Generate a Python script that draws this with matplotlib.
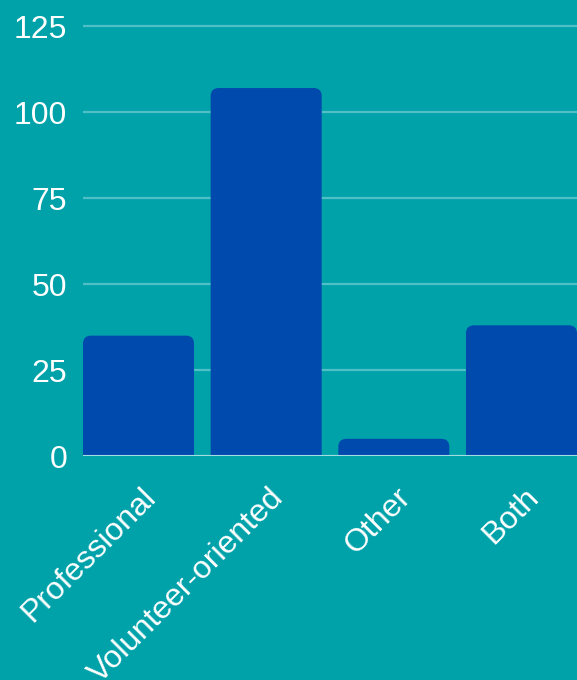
import matplotlib.pyplot as plt
from matplotlib.patches import FancyBboxPatch
from matplotlib.transforms import ScaledTranslation

plt.rcParams['font.family'] = ['Liberation Sans', 'DejaVu Sans']

categories = ['Professional', 'Volunteer-oriented', 'Other', 'Both']
counts = [35, 107, 5, 38]
yticks = [0, 25, 50, 75, 100, 125]

bg = '#00a2aa'
bar_color = '#004aad'

fig = plt.figure(figsize=(5.77, 6.8), dpi=100, facecolor=bg)
ax = fig.add_axes([83 / 577, 224 / 680, 494 / 577, 456 / 680])
ax.set_facecolor(bg)

width = 0.87
bars = ax.bar(range(len(categories)), counts, width=width, color=bar_color)
ax.set_xlim(-width / 2, len(categories) - 1 + width / 2)
ax.set_ylim(0, 132.6)

# swap the plain rectangles for ones with rounded top corners
aspect = (ax.get_ylim()[1] / 456) / ((ax.get_xlim()[1] - ax.get_xlim()[0]) / 494)
for b in bars:
    b.set_visible(False)
    x, w, h = b.get_x(), b.get_width(), b.get_height()
    ax.add_patch(FancyBboxPatch((x, -10), w, h + 10,
                                boxstyle='round,pad=0,rounding_size=0.063',
                                mutation_aspect=aspect, facecolor=bar_color,
                                edgecolor='none', zorder=2))

ax.set_yticks(yticks)
ax.tick_params(axis='y', length=0, pad=11.5, labelsize=23, labelcolor='white')
ax.yaxis.grid(True, color='#50c0c6', linewidth=1.6)
ax.set_axisbelow(True)
ax.axhline(0, color='#a3dde0', linewidth=1.5, zorder=3)

ax.set_xticks([])
offset = ScaledTranslation(13 / 100, -37 / 100, fig.dpi_scale_trans)
for i, name in enumerate(categories):
    ax.text(i, 0, name, transform=ax.get_xaxis_transform() + offset,
            rotation=45, rotation_mode='anchor', ha='right', va='center',
            fontsize=23, color='white', clip_on=False)

for s in ax.spines.values():
    s.set_visible(False)

fig.savefig('out.png', dpi=100, facecolor=bg)
